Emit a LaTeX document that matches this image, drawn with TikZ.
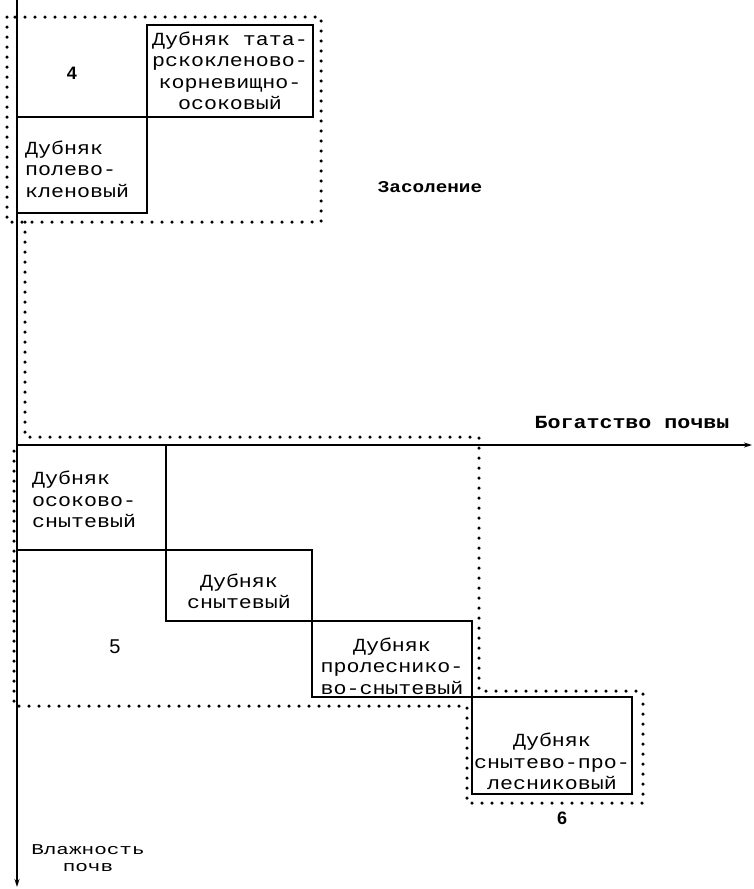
\documentclass[tikz,border=0pt]{standalone}
\usepackage{fontspec}
\newfontfamily\twfont[FakeStretch=1.17]{Liberation Mono}
\newfontfamily\twwide[FakeStretch=1.4]{Liberation Mono}
\newfontfamily\numfont{Liberation Sans}
\usetikzlibrary{arrows.meta, positioning}
\tikzset{
    cell/.style={
        rectangle,
        draw,
        line width=2pt,
        anchor=north west,
        inner sep=0pt,
        outer sep=0pt
    },
    txt/.style={
        align=center,
        inner sep=0pt,
        font=\twfont\fontsize{18.5}{21.5}\selectfont
    },
    num/.style={
        inner sep=0pt,
        font=\numfont\bfseries\fontsize{18}{18}\selectfont
    },
    axislabel/.style={
        inner sep=0pt,
        font=\twfont\bfseries\fontsize{18.5}{18}\selectfont
    },
    dotline/.style={
        line width=3.5pt,
        line cap=round,
        dash pattern=on 0pt off 10pt
    },
    axis/.style={
        line width=2pt,
        -{Stealth[length=8pt, width=5pt]}
    }
}

\begin{document}
\begin{tikzpicture}[x=1pt, y=-1pt]
    \useasboundingbox (0,0) rectangle (754,889);

    % Axes
    \coordinate (top) at (17,0);
    \coordinate (bottom) at (17,887);
    \coordinate (left) at (17,445);
    \coordinate (right) at (752,445);
    \draw [axis] (top) -- (bottom);
    \draw [axis] (left) -- (right);

    % Upper cells
    \node (tatar) [cell, minimum width=166pt, minimum height=92pt] at (147,25) {};
    \node (polevo) [cell, minimum width=130pt, minimum height=96pt] at (17,117) {};

    % Lower cells, stepping down
    \node (osoko) [cell, minimum width=149pt, minimum height=105pt] at (17,445) {};
    \node (snyt) [cell, minimum width=146pt, minimum height=71pt] at (osoko.south east) {};
    \node (prolsnyt) [cell, minimum width=160pt, minimum height=76pt] at (snyt.south east) {};
    \node (snytprol) [cell, minimum width=160pt, minimum height=97pt] at (prolsnyt.south east) {};

    % Texts of the cells
    \node (tatarText) [txt] at (tatar.center) {Дубняк тата-\\рскокленово-\\корневищно-\\осоковый};
    \node (polevoText) [txt, align=left, anchor=west] at ([xshift=8pt, yshift=-4pt]polevo.west) {Дубняк\\полево-\\кленовый};
    \node (osokoText) [txt, align=left, anchor=west] at ([xshift=15pt, yshift=-2pt]osoko.west) {Дубняк\\осоково-\\снытевый};
    \node (snytText) [txt] at ([yshift=-6pt]snyt.center) {Дубняк\\снытевый};
    \node (prolsnytText) [txt] at ([yshift=-7pt]prolsnyt.center) {Дубняк\\пролеснико-\\во-снытевый};
    \node (snytprolText) [txt] at ([yshift=-16pt]snytprol.center) {Дубняк\\снытево-про-\\лесниковый};

    % Group numbers
    \node (four) [num] at (72,73) {4};
    \node (five) [num, font=\numfont\fontsize{20}{20}\selectfont] at (115,647) {5};
    \node (six) [num] at (562,818) {6};

    % Axis labels
    \node (salt) [axislabel, font=\twfont\bfseries\fontsize{16.5}{18}\selectfont] at (430,187) {Засоление};
    \node (rich) [axislabel] at (632,422) {Богатство почвы};
    \node (moist) [axislabel, align=center, font=\twwide\fontsize{15}{17}\selectfont] at (88,858) {Влажность\\почв};

    % Dotted group borders
    \draw [dotline] (7,17) rectangle (321,222);
    \draw [dotline] (25,222) -- (25,437) -- (479,437) -- (479,691) -- (643,691)
        -- (643,803) -- (467,803) -- (467,706) -- (14,706) -- (14,443);
\end{tikzpicture}
\end{document}
